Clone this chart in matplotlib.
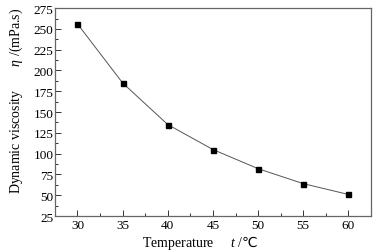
import matplotlib

matplotlib.use("Agg")

import matplotlib.pyplot as plt
from matplotlib.ticker import MultipleLocator

# Values
temperatures = [30, 35, 40, 45, 50, 55, 60]
viscosities = [256, 185, 135, 105, 82, 64, 51]
x_ticks = [30, 35, 40, 45, 50, 55, 60]
y_ticks = [25, 50, 75, 100, 125, 150, 175, 200, 225, 250, 275]

plt.rcParams["font.family"] = ["Liberation Serif", "DejaVu Sans"]
plt.rcParams["mathtext.fontset"] = "custom"
plt.rcParams["mathtext.it"] = "Liberation Serif:italic"
plt.rcParams["mathtext.rm"] = "Liberation Serif"
# the degree-Celsius sign is missing from Liberation Serif
plt.rcParams["mathtext.sf"] = "DejaVu Sans"

spine_color = "#666666"

fig = plt.figure(figsize=(3.84, 2.53), dpi=100)
ax = fig.add_axes([0.143, 0.142, 0.823, 0.822])

ax.plot(
    temperatures,
    viscosities,
    color="#555555",
    linewidth=0.7,
    marker="s",
    markersize=3.6,
    markerfacecolor="black",
    markeredgecolor="black",
)

ax.set_xlim(27.5, 62.5)
ax.set_ylim(25, 275)
ax.set_xticks(x_ticks)
ax.set_yticks(y_ticks)
ax.xaxis.set_minor_locator(MultipleLocator(2.5))
ax.yaxis.set_minor_locator(MultipleLocator(12.5))

ax.tick_params(which="both", direction="in", colors="black", labelsize=9.5,
               pad=2, width=0.7)
ax.tick_params(which="major", length=4, color="#333333")
ax.tick_params(which="minor", length=2, color="#333333")
ax.tick_params(axis="y", which="major", pad=1)

for spine in ax.spines.values():
    spine.set_color(spine_color)
    spine.set_linewidth(0.9)

ax.set_xlabel("Temperature     $t$ /$\\mathsf{\u2103}$", fontsize=10)
ax.set_ylabel("Dynamic viscosity       $\\eta$ /(mPa.s)", fontsize=10)
ax.xaxis.set_label_coords(0.458, -0.08)
ax.yaxis.set_label_coords(-0.095, 0.56)

fig.savefig("out.png", dpi=100)
plt.close(fig)
